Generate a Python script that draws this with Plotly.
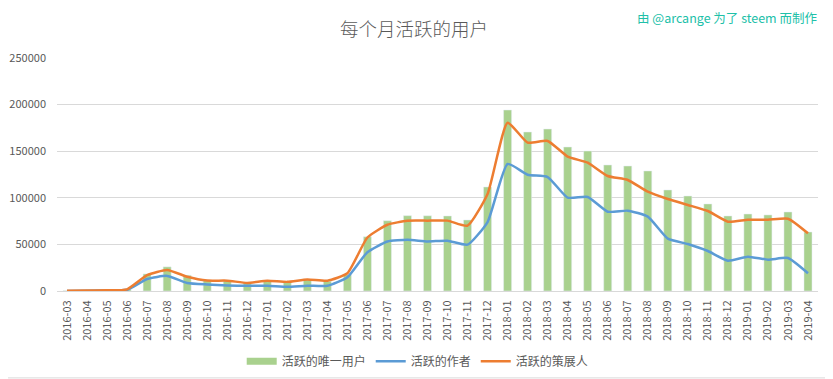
import plotly.graph_objects as go

months = [
    "2016-03", "2016-04", "2016-05", "2016-06", "2016-07", "2016-08", "2016-09", "2016-10",
    "2016-11", "2016-12", "2017-01", "2017-02", "2017-03", "2017-04", "2017-05", "2017-06",
    "2017-07", "2017-08", "2017-09", "2017-10", "2017-11", "2017-12", "2018-01", "2018-02",
    "2018-03", "2018-04", "2018-05", "2018-06", "2018-07", "2018-08", "2018-09", "2018-10",
    "2018-11", "2018-12", "2019-01", "2019-02", "2019-03", "2019-04",
]

unique_users = [
    300, 700, 800, 2000, 18300, 25900, 16900, 11500,
    11000, 9000, 11000, 10000, 12000, 10500, 17500, 58200,
    75400, 80800, 80700, 80500, 76200, 111600, 194200, 170600,
    173800, 154500, 150200, 135200, 134100, 128800, 108400, 101900,
    93400, 80500, 82600, 81600, 84800, 63300,
]

authors = [
    100, 400, 500, 1300, 12900, 16200, 8600, 7000,
    6000, 5600, 5700, 4500, 5700, 5600, 14700, 41600,
    53100, 54900, 53200, 54000, 49700, 74000, 136300, 124800,
    122300, 100200, 100900, 85100, 86200, 79800, 56200, 50400,
    42900, 32500, 36800, 33600, 35400, 19000,
]

curators = [
    200, 600, 700, 1800, 17000, 22600, 15300, 11200,
    11100, 8700, 11000, 9800, 12400, 11100, 19000, 57400,
    71100, 75400, 75500, 75500, 70100, 104100, 180600, 159200,
    161000, 144200, 137700, 123400, 119100, 106600, 98700, 92300,
    85800, 74400, 76500, 76500, 77600, 61900,
]

y_ticks = [0, 50000, 100000, 150000, 200000, 250000]

GREEN = "#A9D18E"
BLUE = "#5B9BD5"
ORANGE = "#ED7D31"
GRAY = "#595959"
FONT = "Noto Sans CJK SC"

fig = go.Figure()
fig.add_trace(go.Bar(x=months, y=unique_users, marker_color=GREEN,
                     name="活跃的唯一用户", showlegend=False))
# legend entry styled as Excel's wide green swatch
fig.add_trace(go.Scatter(x=[None], y=[None], mode="lines", name="活跃的唯一用户",
                         line=dict(color=GREEN, width=7)))
fig.add_trace(go.Scatter(x=months, y=authors, mode="lines", name="活跃的作者",
                         line=dict(color=BLUE, width=2.5, shape="spline", smoothing=0.5)))
fig.add_trace(go.Scatter(x=months, y=curators, mode="lines", name="活跃的策展人",
                         line=dict(color=ORANGE, width=2.5, shape="spline", smoothing=0.5)))

# the page body has an 8px margin, so the figure is 8px smaller and shifted
fig.update_layout(
    width=825, height=371,
    margin=dict(l=49, r=15, t=50, b=88),
    paper_bgcolor="white", plot_bgcolor="white",
    font=dict(family=FONT, color=GRAY, size=11),
    bargap=0.6,
    title=dict(text="每个月活跃的用户", x=0.492, xanchor="center", y=0.9407, yanchor="middle",
               font=dict(family=FONT, size=18.5, color=GRAY, weight=300)),
    xaxis=dict(type="category", tickangle=-90, showgrid=False, showline=True,
               linecolor="#D9D9D9", linewidth=1, ticks="", ticklabelstandoff=4,
               automargin=False,
               tickfont=dict(size=11, color=GRAY, family=FONT)),
    yaxis=dict(range=[0, 250000], tickvals=y_ticks, ticktext=[str(v) for v in y_ticks],
               showgrid=True, gridcolor="#D9D9D9", gridwidth=1, zeroline=False,
               showline=False, ticks="", ticklen=0, ticklabelstandoff=10,
               automargin=False,
               tickfont=dict(size=11, color=GRAY, family=FONT)),
    legend=dict(orientation="h", x=0.474, xanchor="center",
                yref="container", y=0.048, yanchor="middle",
                font=dict(size=12, color=GRAY, family=FONT), itemwidth=30,
                bgcolor="rgba(0,0,0,0)"),
    annotations=[dict(text="由 @arcange 为了 steem 而制作", xref="paper", yref="paper",
                      x=1.0013, y=1.1717, xanchor="right", yanchor="middle", showarrow=False,
                      font=dict(family=FONT, size=12.5, color="#20C0A8"))],
    shapes=[dict(type="rect", xref="paper", yref="paper",
                 x0=-0.0742, x1=1.0184, y0=-0.373, y1=1.2468,
                 line=dict(color="#D9D9D9", width=1), layer="below")],
)

fig.write_html("out.html")
